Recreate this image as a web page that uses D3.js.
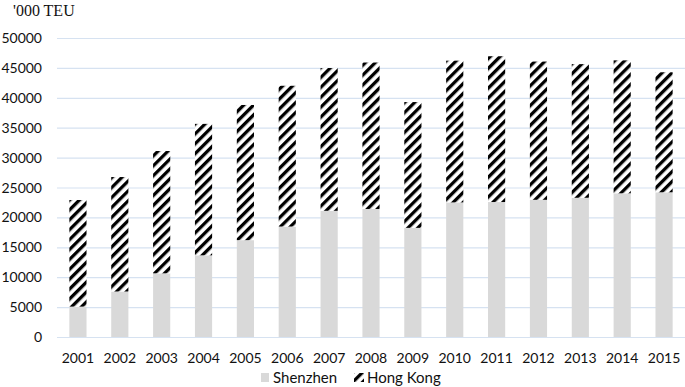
<!DOCTYPE html>
<html>
<head>
<meta charset="utf-8">
<script src="https://cdn.jsdelivr.net/npm/d3@7"></script>
<style>
body { margin: 0; background: #fff; }
svg text { font-family: Lato, "Open Sans", sans-serif; }
</style>
</head>
<body>
<div id="chart"></div>
<script>
// container throughput, '000 TEU
var years = ["2001","2002","2003","2004","2005","2006","2007","2008","2009","2010","2011","2012","2013","2014","2015"]
var shenzhen = [5080, 7610, 10650, 13660, 16200, 18470, 21100, 21410, 18250, 22510, 22570, 22940, 23280, 24030, 24200]
var hongKong = [17830, 19140, 20450, 21980, 22600, 23540, 23880, 24490, 21040, 23700, 24380, 23120, 22350, 22230, 20070]
var yTicks = [0, 5000, 10000, 15000, 20000, 25000, 30000, 35000, 40000, 45000, 50000]

var width = 685, height = 387
var svg = d3.select("#chart").append("svg")
    .attr("width", width)
    .attr("height", height)

var defs = svg.append("defs")
var pat = defs.append("pattern")
    .attr("id", "hatch")
    .attr("patternUnits", "userSpaceOnUse")
    .attr("width", 7)
    .attr("height", 7)
    .attr("patternTransform", "rotate(45)")
pat.append("rect").attr("width", 7).attr("height", 7).attr("fill", "#fff")
pat.append("rect").attr("x", 0).attr("width", 3.3).attr("height", 7).attr("fill", "#000")

var x = d3.scaleBand().domain(years).range([57, 685]).paddingInner(0.59).paddingOuter(0.295)
var y = d3.scaleLinear().domain([0, 50000]).range([337, 38])

// gridlines
svg.append("g").selectAll("line")
    .data(yTicks).enter().append("line")
    .attr("x1", 57).attr("x2", 685)
    .attr("y1", function(d){ return y(d) + 0.5 })
    .attr("y2", function(d){ return y(d) + 0.5 })
    .attr("stroke", "#d6e2f1")
    .attr("stroke-width", 1.2)

svg.append("g").selectAll("text")
    .data(yTicks).enter().append("text")
    .attr("x", 42)
    .attr("y", function(d){ return y(d) + 5 })
    .attr("text-anchor", "end")
    .attr("font-size", 14)
    .attr("fill", "#111")
    .text(function(d){ return d })

svg.append("text")
    .attr("x", 13).attr("y", 16)
    .style("font-family", "'Liberation Serif', 'Times New Roman', serif")
    .attr("font-size", 16)
    .attr("fill", "#111")
    .text("'000 TEU")

// stacked bars
svg.append("g").selectAll("rect")
    .data(years).enter().append("rect")
    .attr("x", function(d){ return x(d) })
    .attr("width", x.bandwidth())
    .attr("y", function(d, i){ return y(shenzhen[i]) })
    .attr("height", function(d, i){ return y(0) - y(shenzhen[i]) })
    .attr("fill", "#d9d9d9")

svg.append("g").selectAll("rect")
    .data(years).enter().append("rect")
    .attr("x", function(d){ return x(d) })
    .attr("width", x.bandwidth())
    .attr("y", function(d, i){ return y(shenzhen[i] + hongKong[i]) })
    .attr("height", function(d, i){ return y(shenzhen[i]) - y(shenzhen[i] + hongKong[i]) })
    .attr("fill", "url(#hatch)")

svg.append("g").selectAll("text")
    .data(years).enter().append("text")
    .attr("x", function(d){ return x(d) + x.bandwidth() / 2 })
    .attr("y", 363)
    .attr("text-anchor", "middle")
    .attr("font-size", 14)
    .attr("fill", "#111")
    .text(function(d){ return d })

// legend
var leg = svg.append("g")
leg.append("rect").attr("x", 261).attr("y", 373).attr("width", 8).attr("height", 9).attr("fill", "#d9d9d9")
leg.append("text").attr("x", 273).attr("y", 383).attr("font-size", 15).attr("fill", "#111").text("Shenzhen")
leg.append("rect").attr("x", 354).attr("y", 373).attr("width", 10).attr("height", 9).attr("fill", "url(#hatch)")
leg.append("text").attr("x", 367).attr("y", 383).attr("font-size", 15).attr("fill", "#111").text("Hong Kong")
</script>
</body>
</html>
